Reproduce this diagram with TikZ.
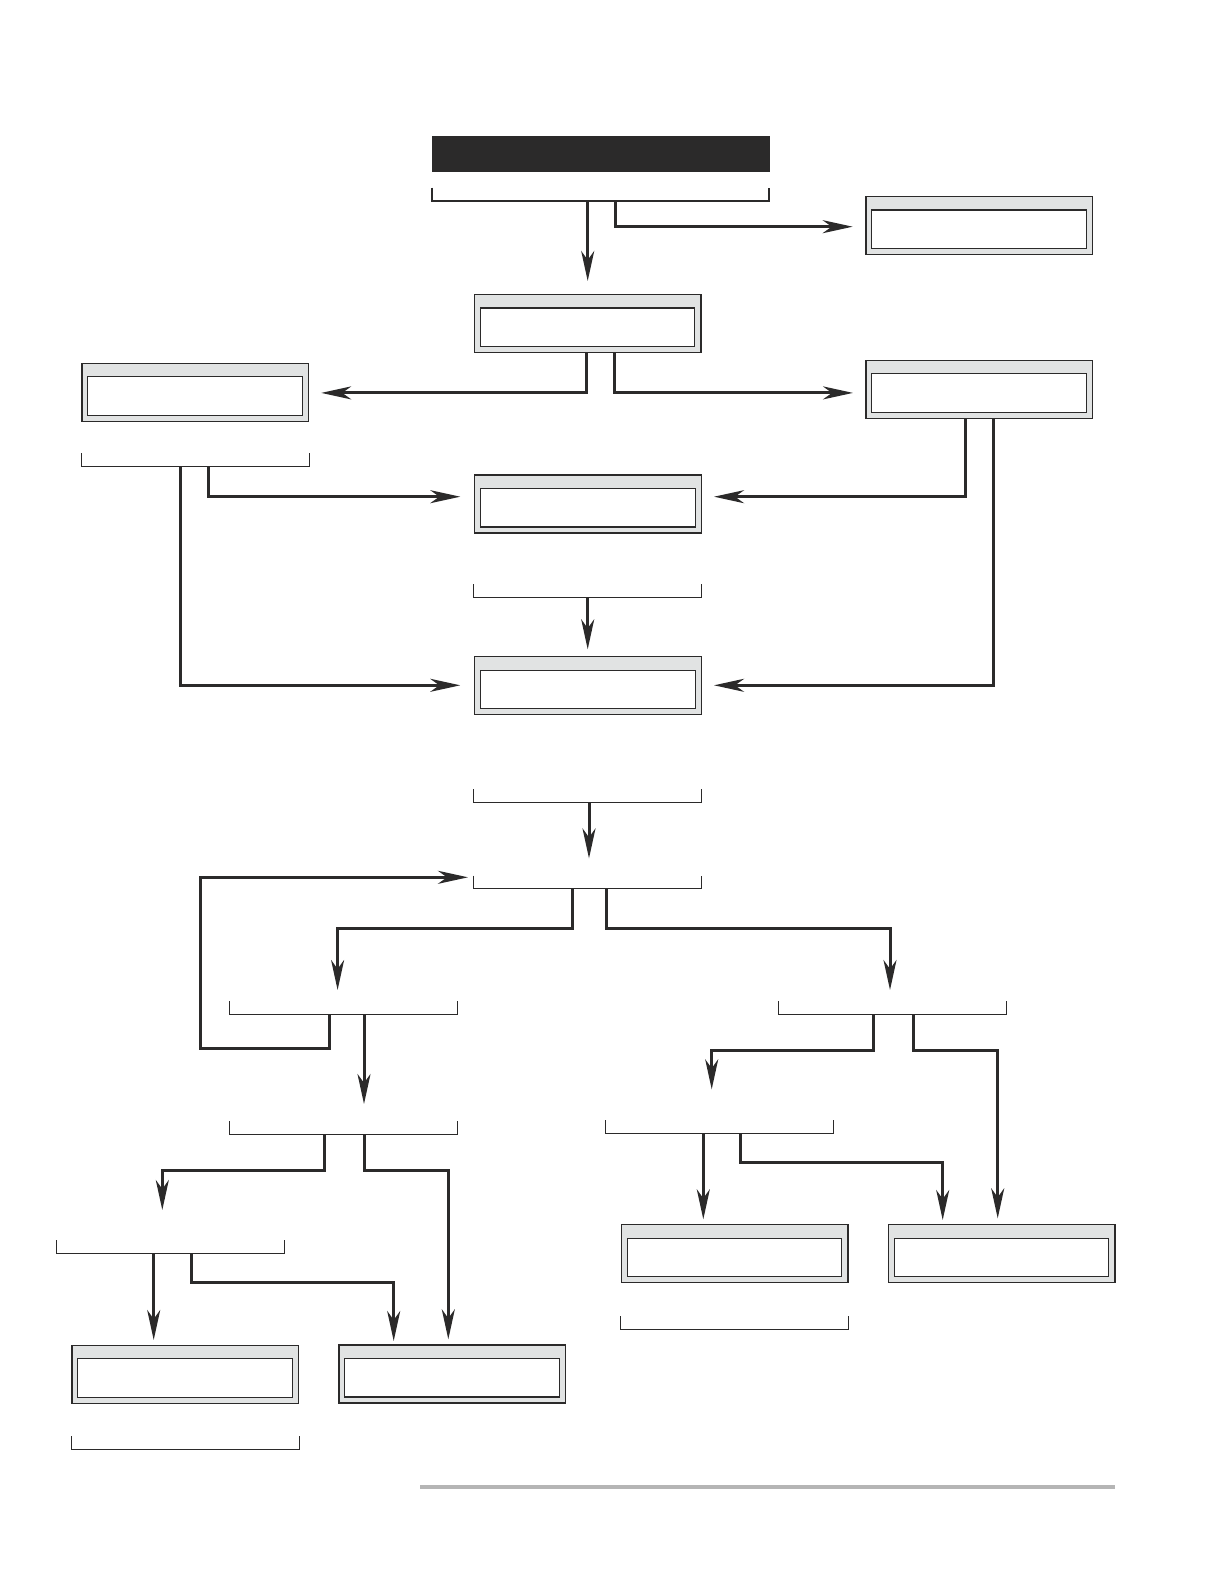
\documentclass[tikz,border=0pt]{standalone}
\usetikzlibrary{arrows.meta}
\definecolor{dk}{HTML}{2B2A2A}
\definecolor{boxgray}{HTML}{E1E3E3}
\definecolor{rulegray}{HTML}{B5B5B5}
\tikzset{
  box/.style={draw=dk, fill=boxgray, line width=1.2pt, minimum width=226.8pt, minimum height=58pt, inner sep=0pt, outer sep=0pt},
  brk/.style={minimum width=228pt, minimum height=13.3pt, inner sep=0pt, outer sep=0pt},
  brkline/.style={draw=dk, line width=1.2pt},
  inbox/.style={draw=dk, fill=white, line width=1.1pt},
  conn/.style={draw=dk, line width=3pt, -{Stealth[length=30pt,width=13pt,inset=9pt]}},
  titlebar/.style={fill=dk, minimum width=338pt, minimum height=35.7pt, inner sep=0pt, outer sep=0pt},
}
\begin{document}
\begin{tikzpicture}[x=1pt,y=-1pt]
\useasboundingbox (0,0) rectangle (1224,1584);

% title bar
\node[titlebar] (top) at (601,153.8) {};

% boxes
\node[box] (b1) at (979.3,225.7) {};
\node[box] (b2) at (587.5,323.7) {};
\node[box] (b3) at (195.3,392.3) {};
\node[box] (b4) at (979.3,389.3) {};
\node[box] (b5) at (587.7,504) {};
\node[box] (b6) at (587.7,685.8) {};
\node[box] (b7) at (734.5,1253.8) {};
\node[box] (b8) at (1001.5,1253.8) {};
\node[box] (b9) at (185.3,1374.3) {};
\node[box] (b10) at (452.3,1374) {};
\foreach \n in {b1,b2,b3,b4,b5,b6,b7,b8,b9,b10}
  \draw[inbox] ([xshift=6pt,yshift=-13.3pt]\n.north west) rectangle ([xshift=-6pt,yshift=6pt]\n.south east);

% brackets
\node[brk, minimum width=337pt] (k0) at (600.5,194.35) {};
\node[brk] (k1) at (195.3,459.9) {};
\node[brk] (k2) at (587.5,590.65) {};
\node[brk] (k3) at (587.5,796) {};
\node[brk] (k4) at (587.4,882.15) {};
\node[brk] (k5) at (343.3,1007.65) {};
\node[brk] (k6) at (892.2,1007.8) {};
\node[brk] (k7) at (343.3,1127.8) {};
\node[brk] (k8) at (719.3,1126.65) {};
\node[brk] (k9) at (170.4,1247) {};
\node[brk] (k10) at (734.65,1322.65) {};
\node[brk] (k11) at (185.8,1443) {};
\foreach \n in {k0,k1,k2,k3,k4,k5,k6,k7,k8,k9,k10,k11}
  \draw[brkline] (\n.north west) |- (\n.south east) -- (\n.north east);

% arrow tip coordinates
\coordinate (t1) at (587.7,281);
\coordinate (t2) at (852.7,226.7);
\coordinate (t3) at (321.2,392.9);
\coordinate (t4) at (853,392.9);
\coordinate (t5) at (460.3,496.7);
\coordinate (t6) at (460.3,685.3);
\coordinate (t7) at (714,496.7);
\coordinate (t8) at (714,685.3);
\coordinate (t9) at (587.7,649.3);
\coordinate (t10) at (589,858.4);
\coordinate (t11) at (337.6,990);
\coordinate (t12) at (890,990);
\coordinate (lp) at (200,1048.3);
\coordinate (t13) at (468,877.3);
\coordinate (t14) at (364,1104);
\coordinate (t15) at (711.7,1089.3);
\coordinate (t16) at (997.7,1218.3);
\coordinate (t17) at (703.3,1219.3);
\coordinate (t18) at (942.7,1220);
\coordinate (t19) at (162.3,1210);
\coordinate (t20) at (448.3,1339.3);
\coordinate (t21) at (153.7,1340);
\coordinate (t22) at (393.7,1341);

% connectors
\draw[conn] (k0.south -| t1) -- (t1);
\draw[conn] ([xshift=15.2pt]k0.south) |- (t2);
\draw[conn] ([xshift=-1pt]b2.south) |- (t3);
\draw[conn] ([xshift=27pt]b2.south) |- (t4);
\draw[conn] ([xshift=13.1pt]k1.south) |- (t5);
\draw[conn] ([xshift=-15pt]k1.south) |- (t6);
\draw[conn] ([xshift=-13.9pt]b4.south) |- (t7);
\draw[conn] ([xshift=14.1pt]b4.south) |- (t8);
\draw[conn] (k2.south -| t9) -- (t9);
\draw[conn] (k3.south -| t10) -- (t10);
\draw[conn] ([xshift=-15pt]k4.south) -- ++(0,40) -| (t11);
\draw[conn] ([xshift=19pt]k4.south) -- ++(0,40) -| (t12);
\draw[conn] ([xshift=-14pt]k5.south) |- (lp) |- (t13);
\draw[conn] (k5.south -| t14) -- (t14);
\draw[conn] ([xshift=-18.5pt]k6.south) -- ++(0,36) -| (t15);
\draw[conn] ([xshift=20.8pt]k6.south) -- ++(0,36) -| (t16);
\draw[conn] (k8.south -| t17) -- (t17);
\draw[conn] ([xshift=21pt]k8.south) -- ++(0,29) -| (t18);
\draw[conn] ([xshift=-18.6pt]k7.south) -- ++(0,36) -| (t19);
\draw[conn] ([xshift=20.7pt]k7.south) -- ++(0,36) -| (t20);
\draw[conn] (k9.south -| t21) -- (t21);
\draw[conn] ([xshift=21.3pt]k9.south) -- ++(0,29) -| (t22);

% footer rule
\draw[rulegray, line width=4pt] (420,1487) -- (1115,1487);
\end{tikzpicture}
\end{document}
